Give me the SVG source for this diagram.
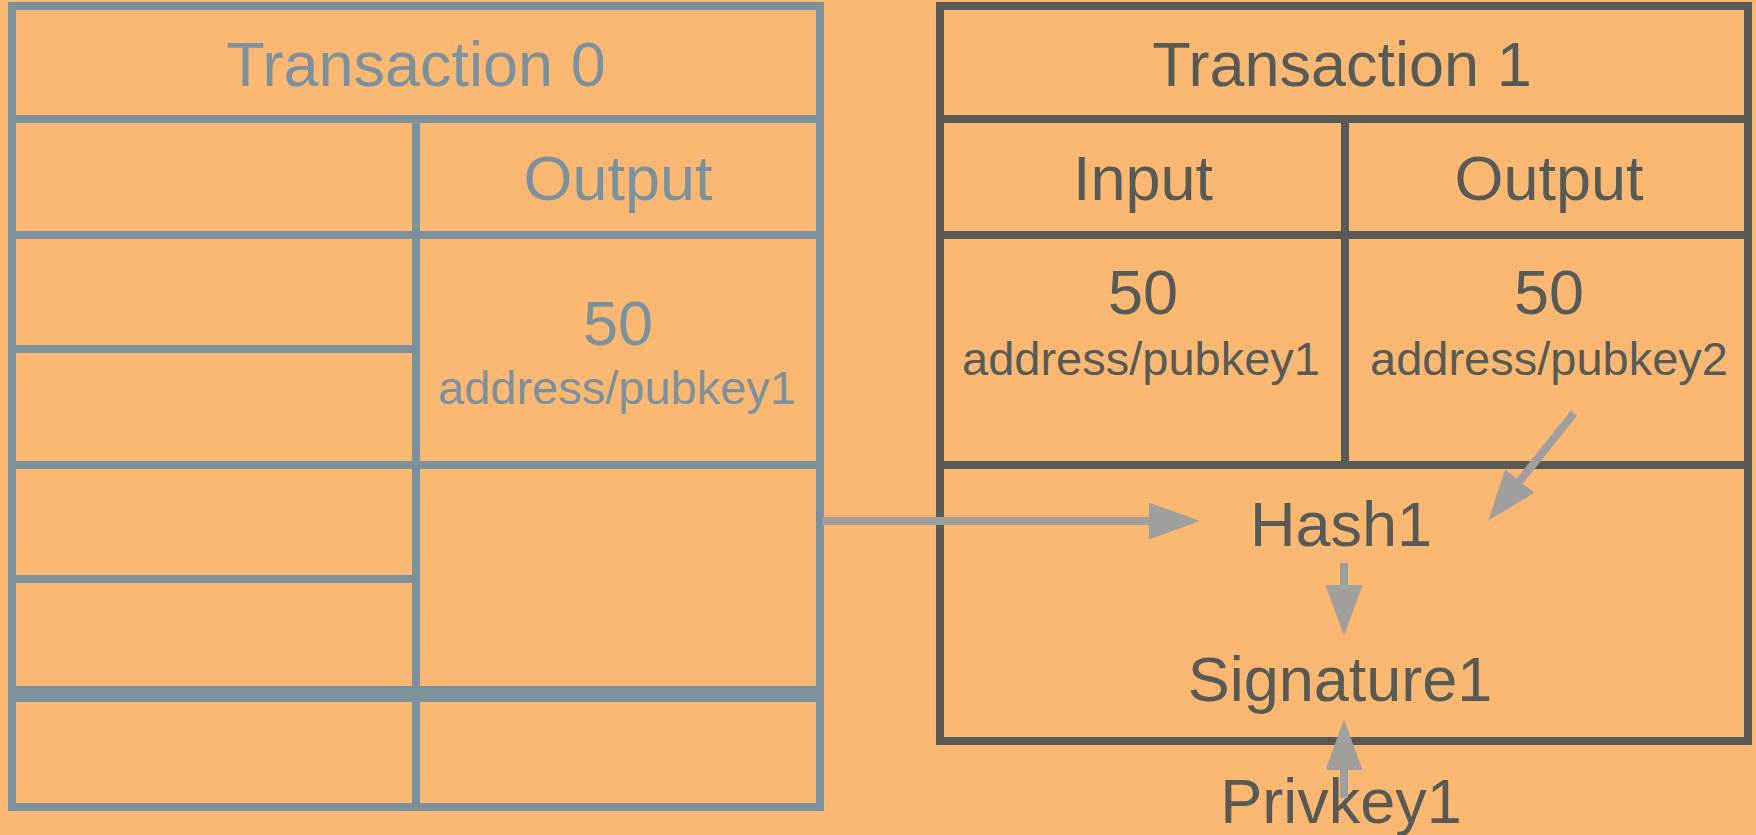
<svg xmlns="http://www.w3.org/2000/svg" width="1756" height="835" viewBox="0 0 1756 835">
  <style>
    .tx0 { fill: none; stroke: #7b929e; stroke-width: 8; }
    .tx1 { fill: none; stroke: #575a55; stroke-width: 8; }
    .t0 { fill: #7b929e; font-family: "Liberation Sans", Arial, sans-serif; text-anchor: middle; }
    .t1 { fill: #575a55; font-family: "Liberation Sans", Arial, sans-serif; text-anchor: middle; }
    .big { font-size: 63px; }
    .small { font-size: 47px; }
    .conn { fill: none; stroke: #a09f9e; stroke-width: 8; }
  </style>
  <defs>
    <marker id="head" markerUnits="userSpaceOnUse" markerWidth="52" markerHeight="38" refX="31" refY="18.5" orient="auto">
      <path d="M0,0 L51,18.5 L0,37 Z" fill="#a09f9e"/>
    </marker>
  </defs>

  <rect width="1756" height="835" fill="#fbb872"/>

  <!-- Transaction 0 table -->
  <g id="transaction0">
    <rect class="tx0" x="12" y="6" width="808" height="801"/>
    <line class="tx0" x1="12" y1="119" x2="820" y2="119"/>
    <line class="tx0" x1="12" y1="235" x2="820" y2="235"/>
    <line class="tx0" x1="12" y1="349" x2="416" y2="349"/>
    <line class="tx0" x1="12" y1="465" x2="820" y2="465"/>
    <line class="tx0" x1="12" y1="579" x2="416" y2="579"/>
    <line class="tx0" x1="12" y1="694" x2="820" y2="694" style="stroke-width:16"/>
    <line class="tx0" x1="416" y1="119" x2="416" y2="807"/>
    <text class="t0 big" x="416" y="86">Transaction 0</text>
    <text class="t0 big" x="618" y="200">Output</text>
    <text class="t0 big" x="618" y="345">50</text>
    <text class="t0 small" x="617" y="404">address/pubkey1</text>
  </g>

  <!-- Transaction 1 table -->
  <g id="transaction1">
    <rect class="tx1" x="940" y="6" width="808" height="735"/>
    <line class="tx1" x1="940" y1="119" x2="1748" y2="119"/>
    <line class="tx1" x1="940" y1="235" x2="1748" y2="235"/>
    <line class="tx1" x1="940" y1="465" x2="1748" y2="465"/>
    <line class="tx1" x1="1345" y1="119" x2="1345" y2="465"/>
    <text class="t1 big" x="1342" y="86">Transaction 1</text>
    <text class="t1 big" x="1143" y="200">Input</text>
    <text class="t1 big" x="1549" y="200">Output</text>
    <text class="t1 big" x="1143" y="314">50</text>
    <text class="t1 small" x="1141" y="375">address/pubkey1</text>
    <text class="t1 big" x="1549" y="314">50</text>
    <text class="t1 small" x="1549" y="375">address/pubkey2</text>
  </g>

  <g id="hash1">
    <text class="t1 big" x="1341" y="546">Hash1</text>
  </g>
  <g id="signature1">
    <text class="t1 big" x="1340" y="701">Signature1</text>
  </g>
  <g id="privkey1">
    <text class="t1 big" x="1341" y="823">Privkey1</text>
  </g>

  <!-- connectors -->
  <g id="connectors">
    <path class="conn" d="M822,521 H1180" marker-end="url(#head)"/>
    <path class="conn" d="M1574,413 L1500.5,505.3" marker-end="url(#head)"/>
    <path class="conn" d="M1344,563 V616" marker-end="url(#head)"/>
    <path class="conn" d="M1344,798 V739" marker-end="url(#head)"/>
  </g>
</svg>
